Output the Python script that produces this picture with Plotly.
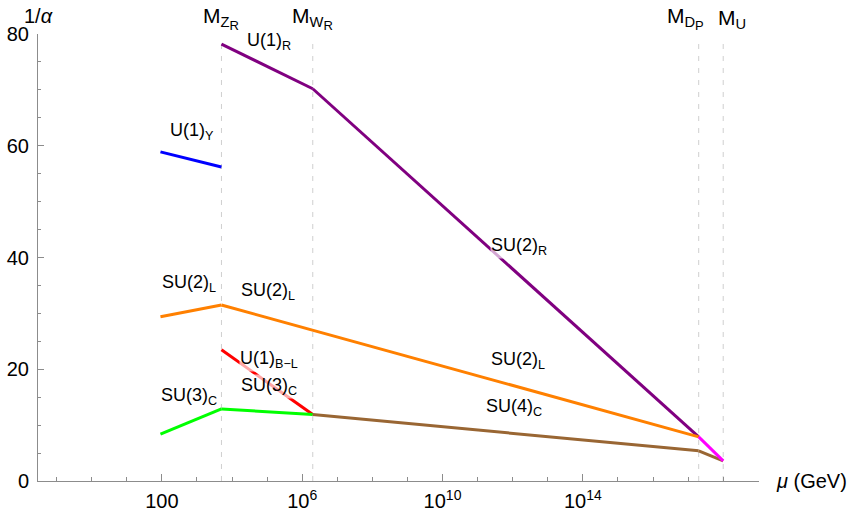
import plotly.graph_objects as go

# Energy scales (GeV)
M_Z = 91.19
M_ZR = 5.0e3
M_WR = 2.0e6
M_DP = 2.0e17
M_U = 1.0e18

# Inverse couplings 1/alpha at each threshold
mu_sm = [M_Z, M_ZR]
u1y = [58.9, 56.2]
su2l_sm = [29.4, 31.5]
su3c_sm = [8.4, 12.9]

mu_lr = [M_ZR, M_WR]
u1r = [78.2, 70.2]
u1bl = [23.5, 11.9]
su3c_lr = [12.9, 11.9]

mu_ps = [M_WR, M_DP]
su2r = [70.2, 7.9]
su4c = [11.9, 5.4]

mu_su2l = [M_ZR, M_DP]
su2l = [31.5, 7.9]

mu_dp = [M_DP, M_U]
unified = [7.9, 3.6]
su4c_dp = [5.4, 3.6]

SUBSUB = "<span style='font-size:13px'>{}</span>"
thresholds = [M_ZR, M_WR, M_DP, M_U]
threshold_labels = ["M<sub>Z<sub>" + SUBSUB.format("R") + "</sub></sub>",
                    "M<sub>W<sub>" + SUBSUB.format("R") + "</sub></sub>",
                    "M<sub>D<sub>" + SUBSUB.format("P") + "</sub></sub>",
                    "M<sub>U</sub>"]
threshold_label_x = [3.69, 6.28, 16.92, 18.26]

major_ticks = [1e2, 1e6, 1e10, 1e14]
major_text = ["100", "10<sup>6</sup>", "10<sup>10</sup>", "10<sup>14</sup>"]
minor_ticks = [10.0**k for k in range(-1, 20) if k not in (2, 6, 10, 14)]

FONT = "Liberation Sans, Arial, sans-serif"
PURPLE = "#800080"
ORANGE = "#ff8000"
GREEN = "#00ff00"
RED = "#ff0000"
BLUE = "#0000ff"
BROWN = "#996633"
MAGENTA = "#ff00ff"

X_RANGE = [-1.53, 19.02]

fig = go.Figure()


def seg(x, y, color):
    fig.add_trace(go.Scatter(x=x, y=y, mode="lines",
                             line=dict(color=color, width=3),
                             showlegend=False, hoverinfo="skip"))


seg(mu_sm, u1y, BLUE)
seg(mu_sm, su2l_sm, ORANGE)
seg(mu_sm, su3c_sm, GREEN)
seg(mu_lr, u1r, PURPLE)
seg(mu_lr, u1bl, RED)
seg(mu_lr, su3c_lr, GREEN)
seg(mu_ps, su2r, PURPLE)
seg(mu_su2l, su2l, ORANGE)
seg(mu_ps, su4c, BROWN)
seg(mu_dp, su4c_dp, BROWN)
seg(mu_dp, unified, MAGENTA)

# Dashed threshold markers
for m in thresholds:
    fig.add_shape(type="line", xref="x", yref="y", x0=m, x1=m, y0=0, y1=79,
                  line=dict(color="#cfcfcf", width=1, dash="5px,7px"),
                  layer="below")


def xpaper(lg):
    return (lg - X_RANGE[0]) / (X_RANGE[1] - X_RANGE[0])


for lx, txt in zip(threshold_label_x, threshold_labels):
    fig.add_annotation(x=xpaper(lx), y=1.034, xref="paper", yref="paper",
                       text=txt, showarrow=False, xanchor="center", yanchor="middle",
                       font=dict(family=FONT, size=21, color="black"))

# Group labels: (log10 mu, 1/alpha, text)
group_labels = [
    (5.05, 78.6, "U(1)<sub>R</sub>"),
    (2.87, 62.5, "U(1)<sub>Y</sub>"),
    (2.76, 35.3, "SU(2)<sub>L</sub>"),
    (5.02, 33.9, "SU(2)<sub>L</sub>"),
    (5.04, 21.7, "U(1)<sub>B\u2212L</sub>"),
    (5.04, 17.0, "SU(3)<sub>C</sub>"),
    (2.76, 15.2, "SU(3)<sub>C</sub>"),
    (12.17, 41.9, "SU(2)<sub>R</sub>"),
    (12.14, 21.5, "SU(2)<sub>L</sub>"),
    (12.03, 13.1, "SU(4)<sub>C</sub>"),
]
for lx, ly, txt in group_labels:
    fig.add_annotation(x=lx, y=ly, xref="x", yref="y", text=txt, showarrow=False,
                       xanchor="center", yanchor="middle", borderpad=0,
                       bgcolor="rgba(255,255,255,0.65)",
                       font=dict(family=FONT, size=18, color="black"))

# Axis titles
fig.add_annotation(x=0.0, y=1.041, xref="paper", yref="paper", text="1/<i>\u03b1</i>",
                   showarrow=False, xanchor="center", yanchor="middle",
                   font=dict(family=FONT, size=20, color="black"))
fig.add_annotation(x=1.0735, y=0, xref="paper", yref="paper", text="<i>\u03bc</i> (GeV)",
                   showarrow=False, xanchor="center", yanchor="middle",
                   font=dict(family=FONT, size=20, color="black"))

AXIS_GREY = "#8c8c8c"
fig.update_layout(
    width=855, height=513,
    margin=dict(l=38, r=96, t=34, b=32),
    paper_bgcolor="white", plot_bgcolor="white",
    font=dict(family=FONT, size=20, color="black"),
    showlegend=False,
    xaxis=dict(type="log", range=X_RANGE, showgrid=False, zeroline=False,
               automargin=False,
               showline=True, linecolor=AXIS_GREY, linewidth=1,
               ticks="inside", ticklen=7, tickcolor=AXIS_GREY, tickwidth=1,
               tickmode="array", tickvals=major_ticks, ticktext=major_text,
               ticklabelstandoff=2,
               tickfont=dict(family=FONT, size=20, color="black"),
               minor=dict(tickmode="array", tickvals=minor_ticks, ticks="inside",
                          ticklen=4, tickcolor=AXIS_GREY, tickwidth=1, showgrid=False)),
    yaxis=dict(range=[0, 80], showgrid=False, zeroline=False,
               automargin=False,
               showline=True, linecolor=AXIS_GREY, linewidth=1,
               ticks="inside", ticklen=6, tickcolor=AXIS_GREY, tickwidth=1,
               tickmode="array", tickvals=[0, 20, 40, 60, 80],
               ticklabelstandoff=4,
               tickfont=dict(family=FONT, size=20, color="black"),
               minor=dict(tickmode="array", tickvals=[5, 10, 15, 25, 30, 35, 45, 50, 55, 65, 70, 75],
                          ticks="inside", ticklen=3, tickcolor=AXIS_GREY, tickwidth=1,
                          showgrid=False)),
)

fig.write_html("out.html")
